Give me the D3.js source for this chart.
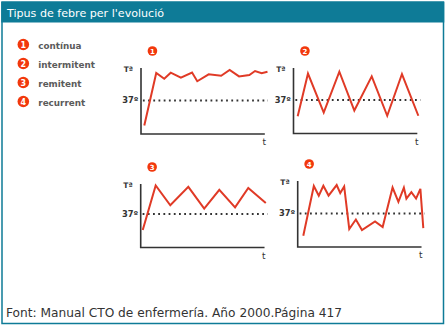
<!DOCTYPE html>
<html><head><meta charset="utf-8">
<script src="https://cdn.jsdelivr.net/npm/d3@7"></script>
<style>html,body{margin:0;padding:0;background:#fff;}svg{display:block;}</style>
</head><body>
<svg id="c" width="447" height="329"></svg>
<script>
// ---- data ----
const title = "Tipus de febre per l'evolució";
const source = "Font: Manual CTO de enfermería. Año 2000.Página 417";
const categories = ["contínua", "intermitent", "remitent", "recurrent"];
const yTickLabels = ["Tª", "37º"];
const xAxisLabel = "t";
const baselineTemp = 37;
// time (0-10) and temperature values
const continuaT    = [0.26,1.20,1.83,2.34,3.14,4.02,4.43,5.33,6.31,6.98,7.72,8.53,8.98,9.50,9.96];
const continuaV    = [35.51,38.64,38.30,38.66,38.36,38.67,38.15,38.56,38.48,38.82,38.44,38.52,38.76,38.63,38.72];
const intermitentT = [0.33,1.14,2.38,3.61,4.79,6.16,7.38,8.54,9.83];
const intermitentV = [36.03,38.58,36.25,38.69,36.37,38.41,36.06,38.55,36.06];
const remitentT    = [0.16,1.18,2.33,3.75,5.00,6.19,7.43,8.47,9.85];
const remitentV    = [36.04,38.70,37.52,38.62,37.32,38.44,37.40,38.56,37.66];
const recurrentT   = [0.44,1.27,1.66,2.02,2.43,3.07,3.35,3.66,4.06,4.58,5.06,6.09,6.69,7.47,7.93,8.36,8.56,8.95,9.32,9.66,9.89];
const recurrentV   = [35.67,38.64,38.06,38.65,38.07,38.70,38.22,38.61,36.07,36.64,36.01,36.53,36.19,38.55,37.70,38.54,37.89,38.28,37.89,38.47,36.13];
const seriesT = [continuaT, intermitentT, remitentT, recurrentT];
const seriesV = [continuaV, intermitentV, remitentV, recurrentV];

// ---- layout ----
const panels = [
  {x0:141,   y0:134,   top:68},
  {x0:293.5, y0:133.5, top:68},
  {x0:140.7, y0:247.5, top:184},
  {x0:297.7, y0:247,   top:181}
];
const teal = "#0e7b97", red = "#e03a26", badge = "#f2380c";

const svg = d3.select("#c");
// frame
svg.append("rect").attr("x",2).attr("y",2).attr("width",441.5).attr("height",321.5)
  .attr("fill","#fff").attr("stroke",teal).attr("stroke-width",1.5);
svg.append("rect").attr("x",1.25).attr("y",2).attr("width",443).attr("height",20.5).attr("fill",teal);
svg.append("text").attr("x",7).attr("y",17).attr("fill","#fff")
  .attr("font-family","DejaVu Sans").attr("font-size",11.1).text(title);

// legend
const lg = svg.append("g");
categories.forEach((c,i)=>{
  const cy = 44.5 + i*19;
  lg.append("circle").attr("cx",23.3).attr("cy",cy).attr("r",5.8).attr("fill",badge);
  lg.append("text").attr("x",23.3).attr("y",cy+3).attr("text-anchor","middle")
    .attr("font-family","DejaVu Sans").attr("font-weight","bold").attr("font-size",8).attr("fill","#fff").text(i+1);
  lg.append("text").attr("x",38.3).attr("y",cy+4)
    .attr("font-family","DejaVu Sans").attr("font-weight","bold").attr("font-size",8.8).attr("fill","#5b5b5b").text(c);
});

panels.forEach((p,i)=>{
  const x = d3.scaleLinear().domain([0,10]).range([p.x0, p.x0+127]);
  const y = d3.scaleLinear().domain([35,39]).range([p.y0, p.y0-67]);
  const g = svg.append("g");
  // badge
  g.append("circle").attr("cx",x(0.9)).attr("cy",p.top-17).attr("r",4.8).attr("fill",badge);
  g.append("text").attr("x",x(0.9)).attr("y",p.top-14.3).attr("text-anchor","middle")
    .attr("font-family","DejaVu Sans").attr("font-weight","bold").attr("font-size",7).attr("fill","#fff").text(i+1);
  // dotted baseline
  g.append("line").attr("x1",x(0.15)).attr("x2",x(10)).attr("y1",y(baselineTemp)).attr("y2",y(baselineTemp))
    .attr("stroke","#333").attr("stroke-width",1.8).attr("stroke-dasharray","1.8,3.4");
  // axes
  g.append("path").attr("d",`M${x(0)},${p.top}V${p.y0}H${x(9.75)}`)
    .attr("fill","none").attr("stroke","#333").attr("stroke-width",1.6);
  g.append("text").attr("x",x(0)-8).attr("y",p.top+4).attr("text-anchor","end")
    .attr("font-family","DejaVu Sans").attr("font-weight","bold").attr("font-size",7.5).attr("fill","#333").text(yTickLabels[0]);
  g.append("text").attr("x",x(0)-2.5).attr("y",y(baselineTemp)+2.5).attr("text-anchor","end")
    .attr("font-family","DejaVu Sans").attr("font-weight","bold").attr("font-size",8.3).attr("fill","#333").text(yTickLabels[1]);
  g.append("text").attr("x",x(9.7)).attr("y",p.y0+11).attr("text-anchor","middle")
    .attr("font-family","DejaVu Sans").attr("font-size",9).attr("fill","#333").text(xAxisLabel);
  // curve
  const pts = seriesT[i].map((t,k)=>[t, seriesV[i][k]]);
  g.append("path").datum(pts)
    .attr("d", d3.line().x(d=>x(d[0])).y(d=>y(d[1])))
    .attr("fill","none").attr("stroke",red).attr("stroke-width",2).attr("stroke-linejoin","miter");
});

svg.append("text").attr("x",6).attr("y",317).attr("fill","#333")
  .attr("font-family","DejaVu Sans").attr("font-size",12.2).text(source);
</script>
</body></html>
